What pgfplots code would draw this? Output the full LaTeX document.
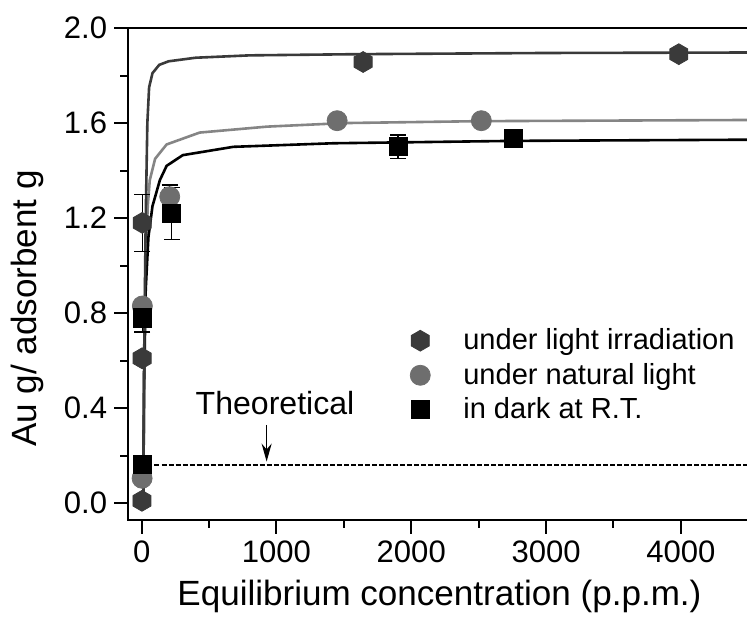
\documentclass[border=0pt]{standalone}
\usepackage{pgfplots}
\pgfplotsset{compat=1.18}
\usepackage{fontspec}
\setmainfont{Liberation Sans}
\usetikzlibrary{arrows.meta}
\definecolor{lightc}{HTML}{3A3A3A}
\definecolor{natc}{HTML}{6E6E6E}
\definecolor{natline}{HTML}{858585}
\pgfdeclareplotmark{hexagon*}{%
  \pgfpathmoveto{\pgfqpointpolar{90}{\pgfplotmarksize}}%
  \pgfpathlineto{\pgfqpointpolar{150}{\pgfplotmarksize}}%
  \pgfpathlineto{\pgfqpointpolar{210}{\pgfplotmarksize}}%
  \pgfpathlineto{\pgfqpointpolar{270}{\pgfplotmarksize}}%
  \pgfpathlineto{\pgfqpointpolar{330}{\pgfplotmarksize}}%
  \pgfpathlineto{\pgfqpointpolar{30}{\pgfplotmarksize}}%
  \pgfpathclose\pgfusepathqfillstroke}
\begin{document}
\begin{tikzpicture}
\begin{axis}[name=ax,
  scale only axis, width=309.5pt, height=245.5pt,
  xmin=-100, xmax=4500, ymin=-0.07, ymax=2.0,
  axis line style={line width=1pt},
  tick align=outside, xtick pos=left, ytick pos=left,
  major tick length=7pt, minor tick length=4pt,
  every tick/.style={black, line width=1pt},
  xtick={0,1000,2000,3000,4000}, minor x tick num=1,
  ytick={0,0.4,0.8,1.2,1.6,2.0}, minor y tick num=1,
  /pgf/number format/assume math mode=true,
  xticklabel style={font=\fontsize{15.5}{18}\selectfont, /pgf/number format/set thousands separator={}},
  yticklabel style={font=\fontsize{15.5}{18}\selectfont, /pgf/number format/.cd, fixed, fixed zerofill, precision=1},
  xlabel={Equilibrium concentration (p.p.m.)},
  ylabel={Au g/ adsorbent g},
  xlabel style={font=\fontsize{17.5}{20}\selectfont, at={(axis description cs:0.502,-0.155)}, anchor=center},
  ylabel style={font=\fontsize{17.5}{20}\selectfont, at={(axis description cs:-0.162,0.43)}, anchor=center},
  legend style={at={(axis cs:1945,0.77)}, anchor=north west, draw=none, fill=none,
    font=\fontsize{14.5}{17}\selectfont, row sep=1.25pt,
    /tikz/every odd column/.append style={column sep=14.5pt}},
  legend cell align=left,
]
% fitted curves
\addplot[forget plot, natline, line width=1.3pt] coordinates {
 (12,0) (18,0.6) (28,1.0) (45,1.25) (60,1.36) (100,1.45) (185,1.51) (430,1.56) (930,1.585) (1500,1.600) (2500,1.608) (4500,1.613)};
\addplot[forget plot, black, line width=1.3pt] coordinates {
 (12,0) (18,0.5) (30,0.9) (50,1.12) (80,1.25) (135,1.36) (185,1.42) (305,1.465) (680,1.50) (1420,1.515) (2750,1.525) (4500,1.53)};
\addplot[forget plot, lightc, line width=1.3pt] coordinates {
 (12,0) (18,0.6) (30,1.2) (42,1.6) (55,1.75) (80,1.81) (130,1.845) (200,1.86) (400,1.875) (800,1.885) (1600,1.89) (3000,1.895) (4500,1.897)};
% theoretical
\addplot[forget plot, black, line width=1.2pt, dash pattern=on 2.5pt off 1pt] coordinates {(95,0.16) (4500,0.16)};
% error bars
\addplot[forget plot, only marks, mark=none, black,
  error bars/.cd, y dir=both, y explicit,
  error bar style={line width=0.7pt, black},
  error mark options={rotate=90, mark size=4pt, line width=0.7pt, black}]
 coordinates {(4,1.18) +- (0,0.12) (208,1.29) +- (0,0.05) (223,1.22) +- (0,0.11) (1903,1.50) +- (0,0.05) (4,0.78) +- (0,0.06)};
% data
\addplot[only marks, mark=hexagon*, mark size=5.2pt, draw=lightc, fill=lightc]
 coordinates {(4,1.18) (3,0.61) (2,0.01) (1643,1.857) (3985,1.89)};
\addlegendentry{under light irradiation}
\addplot[only marks, mark=*, mark size=5pt, draw=natc, fill=natc]
 coordinates {(5,0.83) (3,0.105) (208,1.29) (1450,1.61) (2520,1.61)};
\addlegendentry{under natural light}
\addplot[only marks, mark=square*, mark size=4.5pt, draw=black, fill=black]
 coordinates {(4,0.78) (3,0.165) (223,1.22) (1903,1.50) (2758,1.536)};
\addlegendentry{in dark at R.T.}
% annotation
\node[font=\fontsize{16}{19}\selectfont] at (axis cs:989,0.422) {Theoretical};
\draw[-{Stealth[length=9pt,width=5pt]}, line width=0.8pt] (axis cs:927,0.33) -- (axis cs:927,0.175);
\end{axis}
\pgfresetboundingbox
\path ([xshift=-64pt,yshift=-52.5pt]ax.south west) rectangle ([xshift=-0.6pt,yshift=14pt]ax.north east);
\end{tikzpicture}
\end{document}
